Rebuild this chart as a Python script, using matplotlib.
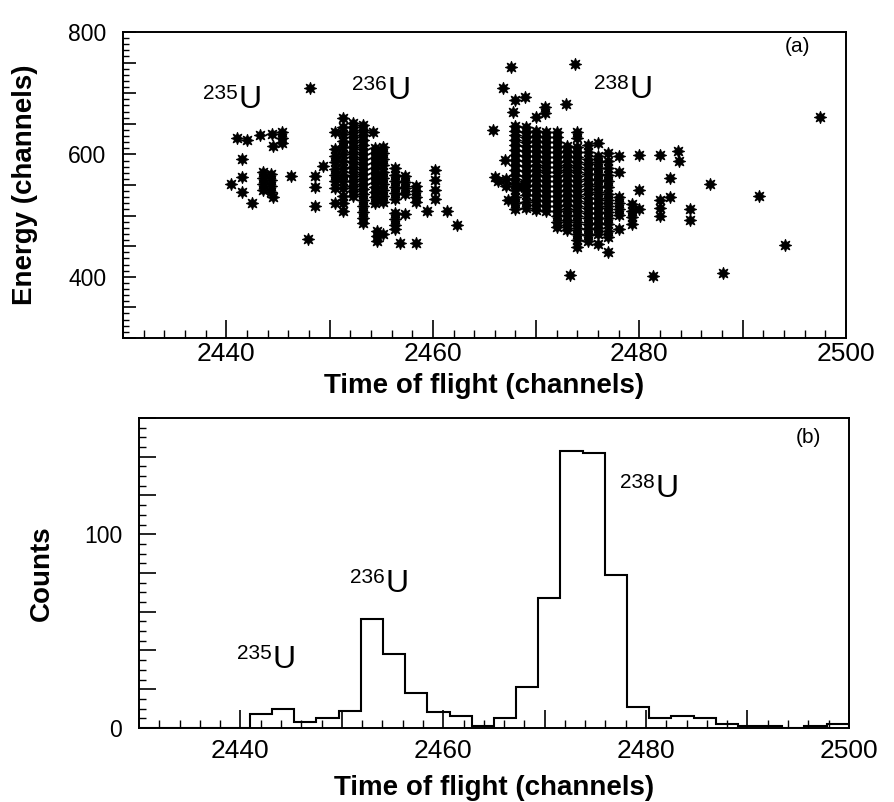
import matplotlib
matplotlib.use("Agg")
import matplotlib.pyplot as plt
from matplotlib.ticker import MultipleLocator, FuncFormatter
import numpy as np

plt.rcParams['font.family'] = ['Liberation Sans', 'DejaVu Sans']

# ---- panel (a): scatter, energy vs time of flight ----
# isolated points (tof, energy)
tof_235 = [2440.5, 2441.0, 2442.0, 2443.3, 2444.4, 2445.4, 2445.4, 2445.4, 2444.5,
           2441.5, 2441.5, 2441.5, 2442.5, 2443.6, 2443.6, 2443.6, 2443.6,
           2444.3, 2444.3, 2444.3, 2444.3, 2444.5, 2446.3]
e_235 = [552, 626, 624, 631, 633, 637, 627, 618, 614,
         592, 563, 538, 521, 572, 562, 552, 542,
         568, 558, 548, 538, 530, 564]

tof_236_single = [2447.9, 2448.1, 2448.6, 2448.6, 2448.6, 2449.4, 2451.3, 2454.2,
                  2454.6, 2454.6, 2454.6, 2456.8, 2459.4, 2461.4, 2462.3]
e_236_single = [462, 709, 565, 547, 515, 581, 659, 636,
                475, 466, 459, 455, 507, 507, 484]

# columns of the 236U group: channel and the energies stacked in it
col_236_tof = [2450.5, 2451.3, 2452.3, 2453.2, 2454.4, 2455.2, 2456.3, 2457.3, 2458.4, 2460.2]
col_236_e = [
    [636, 608, 598, 588, 576, 566, 556, 545, 520],
    [645, 633, 622, 612, 600, 590, 578, 566, 556, 545, 532, 520, 508],
    [652, 644, 636, 628, 620, 612, 604, 596, 588, 580, 572, 564, 556, 548, 540, 532],
    [648, 640, 632, 624, 616, 608, 600, 592, 584, 576, 568, 560, 552, 544, 536, 526, 516, 506, 496, 488],
    [610, 602, 594, 586, 578, 570, 562, 554, 546, 538, 530, 520],
    [612, 602, 592, 582, 572, 562, 552, 542, 532, 522, 470],
    [577, 567, 557, 547, 537, 527, 505, 495, 485, 478],
    [565, 555, 545, 535, 503],
    [549, 540, 531, 522, 455],
    [574, 558, 542, 527],
]

tof_238_single = [2467.6, 2473.8, 2466.8, 2468.0, 2468.9, 2467.8, 2470.0, 2470.9, 2470.9,
                  2472.9, 2465.8, 2467.0, 2466.0, 2466.3, 2467.1, 2467.1, 2467.3, 2468.5,
                  2473.3, 2481.3, 2488.1, 2480.0, 2482.0, 2483.7, 2483.8, 2483.0, 2483.0,
                  2486.8, 2482.0, 2482.0, 2482.0, 2484.9, 2484.9, 2480.0, 2480.0,
                  2491.6, 2494.1, 2497.5]
e_238_single = [742, 748, 708, 689, 694, 670, 661, 677, 668,
                682, 640, 591, 563, 556, 560, 549, 525, 548,
                403, 401, 406, 599, 599, 605, 589, 561, 531,
                551, 525, 512, 500, 511, 492, 541, 511,
                532, 452, 661]

col_238_tof = [2468, 2469, 2470, 2471, 2472, 2473, 2474, 2475, 2476, 2477, 2478, 2479.3]
col_238_e = [
    [647, 639, 631, 623, 615, 607, 599, 591, 583, 575, 567, 559, 551, 541, 530, 520, 510],
    [645, 637, 629, 621, 613, 605, 597, 589, 581, 573, 565, 557, 549, 541, 533, 523, 513],
    [638, 630, 622, 614, 606, 598, 590, 582, 574, 566, 558, 550, 542, 534, 526, 517, 509],
    [636, 628, 620, 612, 604, 596, 588, 580, 572, 564, 556, 548, 540, 532, 524, 515, 507],
    [636, 628, 620, 612, 604, 596, 588, 580, 572, 564, 556, 548, 540, 532, 524, 516, 508, 499, 490, 482],
    [614, 606, 598, 590, 582, 574, 566, 558, 550, 542, 534, 526, 518, 510, 501, 492, 484, 476],
    [636, 627, 612, 604, 596, 588, 580, 572, 564, 556, 548, 540, 532, 524, 516, 508, 500, 490, 480, 470, 460, 449],
    [615, 604, 592, 584, 576, 568, 560, 552, 544, 536, 528, 520, 512, 504, 496, 487, 478, 468, 459],
    [618, 598, 588, 578, 568, 558, 548, 538, 528, 520, 512, 504, 496, 488, 479, 470, 453],
    [602, 590, 578, 566, 556, 546, 536, 526, 516, 506, 496, 486, 475, 465, 440],
    [597, 572, 530, 520, 510, 501, 478],
    [519, 508, 497, 486],
]

# ---- panel (b): histogram of time of flight ----
tof_edges = np.linspace(2430, 2500, 33)
counts = [0, 0, 0, 0, 0, 7, 10, 3, 5, 9,
          56, 38, 18, 8, 6, 1, 5, 21, 67, 143,
          142, 79, 11, 5, 6, 5, 2, 1, 1, 0,
          1, 2]

# isotope labels: (tof, value at baseline of the "U")
lab_a = {"235": (2441.2, 675), "236": (2455.6, 691), "238": (2479.0, 692)}
lab_b = {"235": (2443.2, 31), "236": (2454.3, 70), "238": (2480.9, 119)}


def flatten(cols_x, cols_y):
    xs, ys = [], []
    for x, col in zip(cols_x, cols_y):
        xs += [x] * len(col)
        ys += col
    return xs, ys


def only(vals):
    return FuncFormatter(lambda v, p: f"{v:.0f}" if round(v) in vals else "")


def iso_label(ax, x, y, mass):
    ax.annotate("U", (x, y), ha="left", va="baseline", fontsize=23)
    ax.annotate(mass, (x, y), xytext=(-0.5, 6.5), textcoords="offset points",
                ha="right", va="baseline", fontsize=15)


fig = plt.figure(figsize=(8.94, 8.02), dpi=100)
ax1 = fig.add_axes([0.1376, 0.5786, 0.8087, 0.3815])
ax2 = fig.add_axes([0.1555, 0.0923, 0.7940, 0.3865])

x36, y36 = flatten(col_236_tof, col_236_e)
x38, y38 = flatten(col_238_tof, col_238_e)
all_x = tof_235 + tof_236_single + x36 + tof_238_single + x38
all_y = e_235 + e_236_single + y36 + e_238_single + y38
ax1.scatter(all_x, all_y, s=75, marker=(8, 1, 0), color="black", linewidths=0.8,
            edgecolors="black", zorder=3)

ax2.stairs(counts, tof_edges, color="black", linewidth=1.5, baseline=0)

for ax in (ax1, ax2):
    ax.set_xlim(2430, 2500)
    ax.xaxis.set_major_locator(MultipleLocator(10))
    ax.xaxis.set_minor_locator(MultipleLocator(2))
    ax.xaxis.set_major_formatter(only([2440, 2460, 2480, 2500]))
    ax.tick_params(axis="both", which="both", direction="in", top=False, right=False)
    ax.tick_params(axis="x", which="major", length=13, width=1.2, labelsize=19)
    ax.tick_params(axis="x", which="minor", length=6, width=1.0)
    ax.tick_params(axis="y", which="major", width=1.2, labelsize=16.5, pad=12)
    ax.tick_params(axis="y", which="minor", width=1.0)
    for sp in ax.spines.values():
        sp.set_linewidth(1.4)

ax1.set_ylim(300, 800)
ax1.yaxis.set_major_locator(MultipleLocator(50))
ax1.yaxis.set_minor_locator(MultipleLocator(10))
ax1.yaxis.set_major_formatter(only([400, 600, 800]))
ax1.tick_params(axis="y", which="major", length=9)
ax1.tick_params(axis="y", which="minor", length=4)
ax1.tick_params(axis="x", which="major", pad=3)

ax2.set_ylim(0, 160)
ax2.yaxis.set_major_locator(MultipleLocator(20))
ax2.yaxis.set_minor_locator(MultipleLocator(5))
ax2.yaxis.set_major_formatter(only([0, 100]))
ax2.tick_params(axis="y", which="major", length=12)
ax2.tick_params(axis="y", which="minor", length=5)
ax2.tick_params(axis="x", which="major", pad=8)

ax1.set_xlabel("Time of flight (channels)", fontsize=20, fontweight="bold")
ax1.set_ylabel("Energy (channels)", fontsize=20, fontweight="bold")
ax1.xaxis.set_label_coords(0.5, -0.114)
ax1.yaxis.set_label_coords(-0.118, 0.5)

ax2.set_xlabel("Time of flight (channels)", fontsize=20, fontweight="bold")
ax2.set_ylabel("Counts", fontsize=20, fontweight="bold")
ax2.xaxis.set_label_coords(0.5, -0.152)
ax2.yaxis.set_label_coords(-0.118, 0.5)

for m, (x, y) in lab_a.items():
    iso_label(ax1, x, y, m)
for m, (x, y) in lab_b.items():
    iso_label(ax2, x, y, m)

ax1.text(2495.3, 777, "(a)", ha="center", va="center", fontsize=15)
ax2.text(2496.0, 150, "(b)", ha="center", va="center", fontsize=15)

fig.savefig("out.png", dpi=100)
